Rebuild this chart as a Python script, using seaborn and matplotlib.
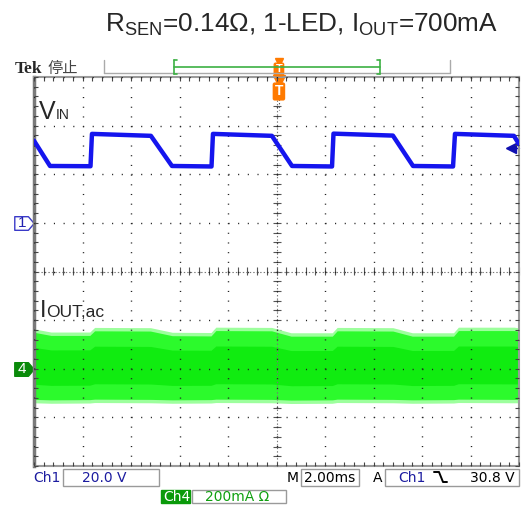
import numpy as np
import pandas as pd
import matplotlib
matplotlib.use("Agg")
import matplotlib.pyplot as plt
import matplotlib.transforms as mtransforms
from matplotlib.path import Path
from matplotlib.lines import Line2D
from matplotlib.patches import Rectangle
import seaborn as sns

# scope settings
ms_per_div = 2.0
v_per_div = 20.0       # Ch1
ma_per_div = 200.0     # Ch4
ch1_offset = 1.0       # ground marker, divisions from centre
ch4_offset = -2.0
trig_level = 30.8      # V
trig_ms = 10.1

# Ch1: input voltage, corner points of the trace (ms, V)
vin_t = [0.0, 0.66, 2.33, 2.39, 4.82, 5.69, 7.32, 7.38, 9.81, 10.64,
         12.29, 12.35, 14.80, 15.63, 17.28, 17.36, 19.79, 20.0]
vin_v = [33.8, 23.4, 23.3, 36.6, 35.8, 23.4, 23.2, 36.6, 35.8, 23.4,
         23.2, 36.7, 35.9, 23.4, 23.2, 36.6, 35.8, 32.4]

# Ch4: ac output current, envelope of the noisy band (ms, mA)
iout_t = [0.0, 0.7, 2.3, 2.5, 4.8, 5.7, 7.3, 7.5, 9.8, 10.6,
          12.3, 12.5, 14.8, 15.6, 17.3, 17.5, 19.8, 20.0]
iout_top = [150, 137, 137, 156, 155, 136, 135, 157, 156, 134,
            134, 156, 155, 134, 134, 157, 157, 154]
iout_bot = [-126, -128, -127, -125, -126, -128, -127, -125, -126, -129,
            -128, -125, -126, -128, -127, -125, -126, -126]
iout_spike = 14  # mA, reach of the spikes past the dense band

W, H = 525, 505


def fx(x):
    return x / W


def fy(y):
    return 1 - y / H


sns.set_style("white")
plt.rcParams["font.family"] = ["Liberation Sans", "DejaVu Sans"]
plt.rcParams["mathtext.fontset"] = "custom"
plt.rcParams["mathtext.rm"] = "Liberation Sans"
plt.rcParams["lines.scale_dashes"] = False

fig = plt.figure(figsize=(W / 100, H / 100), dpi=100)
ax = fig.add_axes([fx(34), fy(466), 485 / W, 389 / H])

# traces
vin = pd.DataFrame({"t": vin_t, "div": np.array(vin_v) / v_per_div + ch1_offset})
sns.lineplot(data=vin, x="t", y="div", ax=ax, color="#1515ee", lw=3.2,
             estimator=None, sort=False, zorder=4)

top = np.array(iout_top) / ma_per_div + ch4_offset
bot = np.array(iout_bot) / ma_per_div + ch4_offset
spike = iout_spike / ma_per_div
ax.fill_between(iout_t, bot - spike, top + spike, color="#9dff9d", lw=0, zorder=1)
ax.fill_between(iout_t, bot, top, color="#2cfa2c", lw=0, zorder=1)
mid = (top + bot) / 2
ax.fill_between(iout_t, mid + (bot - mid) * 0.55, mid + (top - mid) * 0.55,
                color="#10ec10", lw=0, zorder=1)

# graticule
ax.set_xlim(0, 10 * ms_per_div)
ax.set_ylim(-4, 4)
ax.set_xticks(np.arange(0, 20.01, ms_per_div))
ax.set_xticks(np.arange(0, 20.01, ms_per_div / 5), minor=True)
ax.set_yticks(np.arange(-4, 4.01, 1))
ax.set_yticks(np.arange(-4, 4.01, 0.2), minor=True)
ax.tick_params(which="both", direction="in", top=True, right=True, left=True,
               bottom=True, labelleft=False, labelbottom=False,
               color="#444444", width=0.8, length=3)
ax.set_xlabel("")
ax.set_ylabel("")
ax.set_axisbelow(False)
ax.grid(True, which="major", color="#222222", lw=1, ls=(0, (0.8, 6.18)))
for s in ax.spines.values():
    s.set_color("#9a9a9a")
    s.set_linewidth(1.5)
ax.spines["left"].set_color("#7a7a7a")
ax.spines["left"].set_linewidth(2.5)

ax.axhline(0, color="#777777", lw=0.8, ls=(0, (1, 1.5)), zorder=2)
ax.axvline(10, color="#777777", lw=0.8, ls=(0, (1, 1.5)), zorder=2)
sx = ax.secondary_xaxis(0.5)
sx.set_xticks(np.arange(0, 20.01, ms_per_div / 5))
sx.tick_params(direction="inout", length=6, color="#555555", width=0.8,
               labeltop=False, labelbottom=False)
sy = ax.secondary_yaxis(0.5)
sy.set_yticks(np.arange(-4, 4.01, 0.2))
sy.tick_params(direction="inout", length=6, color="#555555", width=0.8,
               labelleft=False, labelright=False)
for a in (sx, sy):
    for s in a.spines.values():
        s.set_visible(False)

# channel ground markers on the left
yax = ax.get_yaxis_transform()
penta = Path([(-1, -0.7), (0.4, -0.7), (1, 0), (0.4, 0.7), (-1, 0.7), (-1, -0.7)],
             [Path.MOVETO, Path.LINETO, Path.LINETO, Path.LINETO, Path.LINETO, Path.CLOSEPOLY])
mx = (24 - 34) / 485
ax.plot([mx], [ch1_offset], marker=penta, ms=14, mfc="white", mec="#3a3ac8",
        mew=1, transform=yax, clip_on=False)
ax.text(mx - 0.004, ch1_offset, "1", color="#2020b0", fontsize=11,
        ha="center", va="center", transform=yax, clip_on=False)
ax.plot([mx], [ch4_offset], marker=penta, ms=14, mfc="#0a8a0a", mec="#0a8a0a",
        transform=yax, clip_on=False)
ax.text(mx - 0.004, ch4_offset, "4", color="white", fontsize=11,
        ha="center", va="center", transform=yax, clip_on=False)

# trigger level marker on the right
ty = ch1_offset + trig_level / v_per_div
ax.plot([0.984, 1.0], [ty, ty], color="#1010b0", lw=1, transform=yax, clip_on=False)
ax.plot([0.984], [ty], marker="<", ms=7, color="#1010b0", transform=yax, clip_on=False)

# trace labels
renderer = fig.canvas.get_renderer()


def two_part(x, y, big, small, big_size, small_size):
    t = fig.text(fx(x), fy(y), big, fontsize=big_size, va="baseline")
    bb = t.get_window_extent(renderer)
    fig.text(bb.x1 / W, fy(y), small, fontsize=small_size, va="baseline")


two_part(39, 119, "V", "IN", 18, 10)
two_part(40, 317, "I", "OUT,ac", 17, 12.5)

# title
fig.text(fx(302), fy(31), r"R$_{\rm SEN}$=0.14Ω, 1-LED, I$_{\rm OUT}$=700mA",
         fontsize=18.8, ha="center", va="baseline")

# top status line
fig.text(fx(15), fy(73), "Tek", family="Liberation Serif", weight="bold", fontsize=12.5,
         va="baseline")
fig.text(fx(48), fy(73), "停止", family=["Noto Sans CJK SC", "DejaVu Sans"],
         fontsize=11, color="#444444", va="baseline")
for xs, ys in [([104, 450], [73, 73]), ([104, 104], [60, 73]), ([450, 450], [60, 73])]:
    fig.add_artist(Line2D([fx(v) for v in xs], [fy(v) for v in ys], color="#aaaaaa", lw=1))
green = "#3cb043"
for xs, ys in [([174, 380], [67, 67]), ([174, 174], [60, 74]), ([174, 177], [60, 60]),
               ([174, 177], [74, 74]), ([380, 380], [60, 74]), ([377, 380], [60, 60]),
               ([377, 380], [74, 74])]:
    fig.add_artist(Line2D([fx(v) for v in xs], [fy(v) for v in ys], color=green, lw=1.2))

# trigger position markers
orange = "#ff7a00"
tx = mtransforms.blended_transform_factory(ax.transData, fig.transFigure)
ax.plot([trig_ms], [fy(61.5)], marker="v", ms=6, color=orange, transform=tx, clip_on=False)
ax.text(trig_ms, fy(69.5), "T", color="white", weight="bold", fontsize=8, ha="center",
        va="center", transform=tx,
        bbox=dict(boxstyle="round,pad=0.18", fc=orange, ec="none"))
ax.plot([trig_ms], [fy(80.5)], marker="v", ms=8, color=orange, transform=tx, clip_on=False)
ax.text(trig_ms, fy(91.5), "T", color="white", weight="bold", fontsize=10, ha="center",
        va="center", transform=tx,
        bbox=dict(boxstyle="round,pad=0.15", fc=orange, ec="none"))
ax.plot([trig_ms, trig_ms], [fy(99), fy(110)], color="#555555", lw=0.8,
        ls=(0, (1, 1.5)), transform=tx, clip_on=False)

# bottom readouts
navy = "#1c1ca0"
sfont = dict(family="DejaVu Sans", fontsize=10, va="baseline")


def box(x0, y0, x1, y1, fc="none", ec="#9a9a9a"):
    fig.add_artist(Rectangle((fx(x0), fy(y1)), (x1 - x0) / W, (y1 - y0) / H,
                             transform=fig.transFigure, fc=fc, ec=ec, lw=1))


box(63, 469, 159, 486)
box(301, 469, 359, 486)
box(385, 469, 519, 486)
box(161, 490, 190, 503, fc="#0a9a0a", ec="#0a9a0a")
box(192, 490, 286, 503)
fig.text(fx(33), fy(482), "Ch1", color=navy, **sfont)
fig.text(fx(82), fy(482), "20.0 V", color=navy, **sfont)
fig.text(fx(287), fy(482), "M", color="black", **sfont)
fig.text(fx(304), fy(482), "2.00ms", color="black", **sfont)
fig.text(fx(373), fy(482), "A", color="black", **sfont)
fig.text(fx(398), fy(482), "Ch1", color=navy, **sfont)
fig.add_artist(Line2D([fx(434), fx(439), fx(443), fx(447)],
                      [fy(472), fy(472), fy(482), fy(482)], color="black", lw=1.4))
fig.text(fx(470), fy(482), "30.8 V", color="black", **sfont)
fig.text(fx(163), fy(501), "Ch4", color="white", **sfont)
fig.text(fx(205), fy(501), "200mA Ω", color="#10a010", **sfont)

fig.savefig("out.png", dpi=100)
